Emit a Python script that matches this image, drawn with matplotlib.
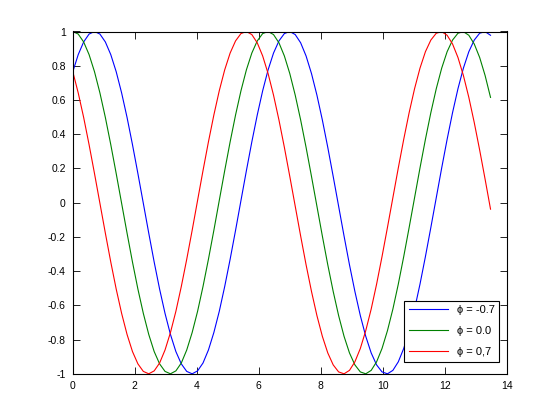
import matplotlib
matplotlib.use("Agg")
import matplotlib.pyplot as plt

# sample positions: 78 points, step 0.175, from 0 to ~13.5
x = [round(0.175 * i, 3) for i in range(78)]

y_blue = [0.765, 0.865, 0.939, 0.985, 1.000, 0.985, 0.939, 0.865, 0.765,
          0.641, 0.498, 0.339, 0.170, -0.004, -0.178, -0.347, -0.505,
          -0.647, -0.770, -0.870, -0.942, -0.986, -1.000, -0.983, -0.937,
          -0.861, -0.759, -0.635, -0.490, -0.331, -0.162, 0.013, 0.187,
          0.355, 0.512, 0.654, 0.776, 0.874, 0.945, 0.988, 1.000, 0.982,
          0.934, 0.857, 0.754, 0.628, 0.483, 0.323, 0.153, -0.021, -0.195,
          -0.363, -0.519, -0.660, -0.781, -0.878, -0.948, -0.989, -1.000,
          -0.980, -0.930, -0.852, -0.748, -0.622, -0.476, -0.315, -0.145,
          0.029, 0.203, 0.370, 0.526, 0.666, 0.786, 0.882, 0.950, 0.990,
          0.999, 0.978]

y_green = [1.000, 0.985, 0.939, 0.865, 0.765, 0.641, 0.498, 0.339, 0.170,
           -0.004, -0.178, -0.347, -0.505, -0.647, -0.770, -0.870, -0.942,
           -0.986, -1.000, -0.983, -0.937, -0.861, -0.759, -0.635, -0.490,
           -0.331, -0.162, 0.013, 0.187, 0.355, 0.512, 0.654, 0.776, 0.874,
           0.945, 0.988, 1.000, 0.982, 0.934, 0.857, 0.754, 0.628, 0.483,
           0.323, 0.153, -0.021, -0.195, -0.363, -0.519, -0.660, -0.781,
           -0.878, -0.948, -0.989, -1.000, -0.980, -0.930, -0.852, -0.748,
           -0.622, -0.476, -0.315, -0.145, 0.029, 0.203, 0.370, 0.526, 0.666,
           0.786, 0.882, 0.950, 0.990, 0.999, 0.978, 0.927, 0.848, 0.743,
           0.615]

y_red = [0.765, 0.641, 0.498, 0.339, 0.170, -0.004, -0.178, -0.347, -0.505,
         -0.647, -0.770, -0.870, -0.942, -0.986, -1.000, -0.983, -0.937,
         -0.861, -0.759, -0.635, -0.490, -0.331, -0.162, 0.013, 0.187, 0.355,
         0.512, 0.654, 0.776, 0.874, 0.945, 0.988, 1.000, 0.982, 0.934,
         0.857, 0.754, 0.628, 0.483, 0.323, 0.153, -0.021, -0.195, -0.363,
         -0.519, -0.660, -0.781, -0.878, -0.948, -0.989, -1.000, -0.980,
         -0.930, -0.852, -0.748, -0.622, -0.476, -0.315, -0.145, 0.029,
         0.203, 0.370, 0.526, 0.666, 0.786, 0.882, 0.950, 0.990, 0.999,
         0.978, 0.927, 0.848, 0.743, 0.615, 0.468, 0.307, 0.137, -0.038]

labels = ["\u03d5 = -0.7", "\u03d5 = 0.0", "\u03d5 = 0,7"]
colors = ["#0000ff", "#008000", "#ff0000"]

plt.rcParams["font.family"] = ["Liberation Sans", "DejaVu Sans"]
plt.rcParams["font.size"] = 7.5

fig = plt.figure(figsize=(5.6, 4.2), dpi=100)
ax = fig.add_axes([0.13, 0.11, 0.775, 0.815])

for ys, c, lab in zip([y_blue, y_green, y_red], colors, labels):
    ax.plot(x, ys, color=c, linewidth=0.8, label=lab)

ax.set_xlim(0, 14)
ax.set_ylim(-1, 1)
ax.set_xticks(range(0, 15, 2))
ax.set_yticks([-1, -0.8, -0.6, -0.4, -0.2, 0, 0.2, 0.4, 0.6, 0.8, 1])
ax.set_yticklabels(["-1", "-0.8", "-0.6", "-0.4", "-0.2", "0", "0.2", "0.4",
                    "0.6", "0.8", "1"])
ax.tick_params(direction="in", length=5, width=0.6, top=True, right=True,
               pad=5)
for s in ax.spines.values():
    s.set_linewidth(0.8)

leg = ax.legend(loc="lower right", bbox_to_anchor=(0.982, 0.035),
                borderaxespad=0, fancybox=False, framealpha=1,
                edgecolor="black", handlelength=3.5, labelspacing=1.0,
                fontsize=8)
leg.get_frame().set_linewidth(0.8)

fig.savefig("out.png", dpi=100)
